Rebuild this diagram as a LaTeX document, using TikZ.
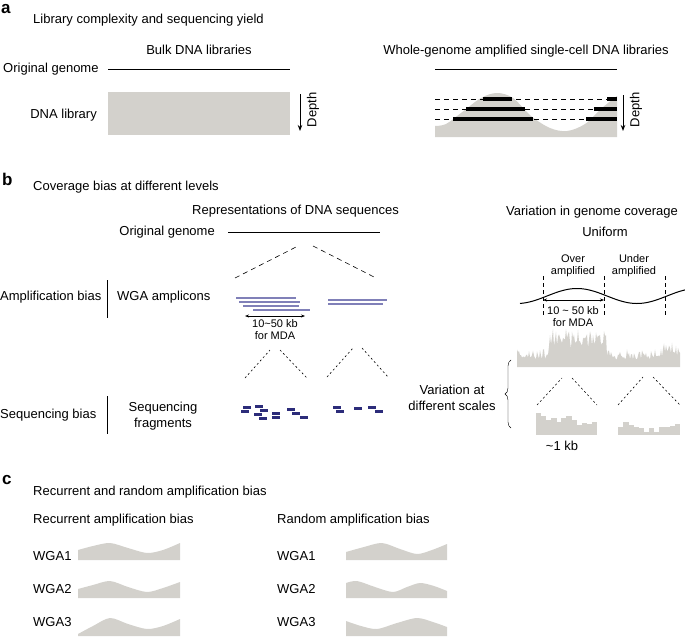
\documentclass[tikz,border=0pt]{standalone}
\usepackage{fontspec}
\setmainfont{Liberation Sans}
\usetikzlibrary{arrows.meta,decorations.pathreplacing}
\definecolor{libgray}{RGB}{211,209,204}
\definecolor{ampblue}{RGB}{128,128,184}
\definecolor{fragblue}{RGB}{44,44,122}

\begin{document}
\begin{tikzpicture}[x=1pt, y=-1pt,
    txt/.style={font=\fontsize{13}{15}\selectfont, inner sep=0pt, text height=9.4pt, text depth=2.7pt},
    twoline/.style={font=\fontsize{13}{15.5}\selectfont, inner sep=0pt, align=center},
    smalltxt/.style={font=\fontsize{11}{12}\selectfont, inner sep=0pt, align=center},
    panel/.style={font=\fontsize{17}{17}\selectfont\bfseries, inner sep=0pt},
    genome/.style={line width=1pt},
    cutline/.style={dash pattern=on 5pt off 4pt, line width=0.6pt},
    dotline/.style={dash pattern=on 2pt off 2.5pt, line width=0.6pt},
    depth/.style={line width=1pt, -{Stealth[length=6pt, width=4.5pt]}},
    span/.style={line width=0.6pt, {Stealth[length=4pt, width=3pt]}-{Stealth[length=4pt, width=3pt]}},
    readbar/.style={line width=4pt},
    amplicon/.style={ampblue, line width=1.2pt},
    tick/.style={dash pattern=on 4pt off 3pt, line width=1pt},
    sidebar/.style={line width=1pt}]
\useasboundingbox (0,0) rectangle (685,637);

% ---- a: library complexity
\node[panel, anchor=west] (pa) at (1,9) {a};
\node[txt, anchor=west] (titlea) at (33,20) {Library complexity and sequencing yield};
\node[txt] (bulk) at (199,51) {Bulk DNA libraries};
\node[txt, anchor=west] (origa) at (3,69) {Original genome};
\coordinate (ga1) at (108,69); \coordinate (ga2) at (290,69);
\draw[genome] (ga1) -- (ga2);
\fill[libgray] (108,92) rectangle (290,135);
\node[txt, anchor=east] (dnalib) at (97,115) {DNA library};
\coordinate (da1) at (300,94); \coordinate (da2) at (300,131);
\draw[depth] (da1) -- (da2);
\node[txt, rotate=90] (deptha) at (313,110) {Depth};

\node[txt] (wgalib) at (526,51) {Whole-genome amplified single-cell DNA libraries};
\coordinate (gb1) at (435,69); \coordinate (gb2) at (617,69);
\draw[genome] (gb1) -- (gb2);
\fill[libgray] (435,137) -- plot[smooth, tension=0.55] coordinates {(435,126) (446,124) (461,113) (481,98) (497,93) (513,98) (531,116) (550,128) (567,131) (585,124) (602,108) (617,96)} -- (617,137) -- cycle;
\foreach \y in {99,109,119}
    \draw[cutline] (435,\y) -- (617,\y);
\draw[readbar] (483,99) -- (512,99);
\draw[readbar] (466,109) -- (525,109);
\draw[readbar] (453,119) -- (533,119);
\draw[readbar] (607,99) -- (617,99);
\draw[readbar] (594,109) -- (617,109);
\draw[readbar] (586,119) -- (617,119);
\coordinate (db1) at (623,95); \coordinate (db2) at (623,131);
\draw[depth] (db1) -- (db2);
\node[txt, rotate=90] (depthb) at (636,110) {Depth};

% ---- b: coverage bias
\node[panel, anchor=west] (pb) at (2,179) {b};
\node[txt, anchor=west] (titleb) at (33,187) {Coverage bias at different levels};
\node[txt, anchor=west] (repr) at (192,211) {Representations of DNA sequences};
\node[txt, anchor=east] (origb) at (215,232) {Original genome};
\coordinate (gc1) at (228,232); \coordinate (gc2) at (380,232);
\draw[genome] (gc1) -- (gc2);
\draw[cutline] (235,278) -- (298,246);
\draw[cutline] (313,246) -- (376,278);

\node[txt, anchor=west] (ampbias) at (0,297) {Amplification bias};
\draw[sidebar] (107,280) -- (107,318);
\node[txt, anchor=west] (amplicons) at (117,297) {WGA amplicons};
\draw[amplicon] (236,298) -- (296,298);
\draw[amplicon] (239,302) -- (300,302);
\draw[amplicon] (243,306) -- (299,306);
\draw[amplicon] (253,310) -- (310,310);
\draw[amplicon] (328,300) -- (387,300);
\draw[amplicon] (328,304) -- (383,304);
\coordinate (sa1) at (245,316); \coordinate (sa2) at (305,316);
\draw[span] (sa1) -- (sa2);
\node[smalltxt] (mdaa) at (275,330) {10\textasciitilde50 kb\\for MDA};
\draw[dotline] (245,378) -- (270,350);
\draw[dotline] (280,350) -- (307,378);
\draw[dotline] (327,377) -- (353,348);
\draw[dotline] (362,348) -- (388,377);

\node[txt, anchor=west] (seqbias) at (0,415) {Sequencing bias};
\draw[sidebar] (107,396) -- (107,434);
\node[twoline] (seqfrag) at (163,416) {Sequencing\\fragments};
\foreach \fx/\fy in {247/407, 245/411, 259/406, 264/410, 258/414, 263/418,
    276/413, 276/417, 291/409, 296/413, 304/417,
    337/407, 340/411, 358/408, 372/407, 379/411}
    \fill[fragblue] (\fx-4,\fy-1.5) rectangle (\fx+4,\fy+1.5);

\node[txt] (varcov) at (592,212) {Variation in genome coverage};
\node[txt] (uniform) at (605,233) {Uniform};
\node[smalltxt] (over) at (573,266) {Over\\amplified};
\node[smalltxt] (under) at (634,266) {Under\\amplified};
\foreach \tx in {543,604,665}
    \draw[tick] (\tx,276) -- (\tx,317);
\draw[line width=1pt] plot[domain=520:685, samples=90, smooth] (\x,{296-7.5*sin((\x-547)*3)});
\coordinate (sb1) at (543,300); \coordinate (sb2) at (604,300);
\draw[span] (sb1) -- (sb2);
\node[smalltxt] (mdab) at (573,317) {10 \textasciitilde{} 50 kb\\for MDA};

\pgfmathsetseed{42}
\fill[libgray] (517,367) \foreach \x in {517,...,680} {
    -- (\x,{367-(7+11*rnd+(\x>548)*(\x<607)*(10+12*rnd)+(\x>660)*8*rnd)}) } -- (680,367) -- cycle;

\draw[decorate, decoration={brace, amplitude=6pt}] (511,428) -- (511,360);
\node[twoline] (varscale) at (452,398) {Variation at\\different scales};

\draw[dotline] (537,405) -- (562,378);
\draw[dotline] (572,378) -- (597,405);
\draw[dotline] (618,405) -- (643,377);
\draw[dotline] (653,377) -- (680,405);
\foreach \h [count=\i from 0] in {22,19,15,17,13,17,19,15,10,12,11,13}
    \fill[libgray] ({536+5.08*\i},435) rectangle ({536+5.08*(\i+1)+0.3},{435-\h});
\foreach \h [count=\i from 0] in {8,13,10,8,7,3,7,3,8,8,9,11}
    \fill[libgray] ({618+5.17*\i},435) rectangle ({618+5.17*(\i+1)+0.3},{435-\h});
\node[txt] (onekb) at (562,447) {\textasciitilde1 kb};

% ---- c: recurrent vs random
\node[panel, anchor=west] (pc) at (2,480) {c};
\node[txt, anchor=west] (titlec) at (33,492) {Recurrent and random amplification bias};
\node[txt, anchor=west] (recur) at (33,520) {Recurrent amplification bias};
\node[txt, anchor=west] (random) at (277,520) {Random amplification bias};
\foreach \lab/\ly in {WGA1/557, WGA2/590, WGA3/623} {
    \node[txt, anchor=west] (rec\lab) at (33,\ly) {\lab};
    \node[txt, anchor=west] (rnd\lab) at (277,\ly) {\lab};
}
\begin{scope}[shift={(78,560)}]
  \fill[libgray] (0,0) -- plot[smooth] coordinates {(0,-10) (15,-14) (32,-17) (50,-12) (69,-7) (85,-10) (102,-17)} -- (102,0) -- cycle;
\end{scope}
\begin{scope}[shift={(78,598)}]
  \fill[libgray] (0,0) -- plot[smooth] coordinates {(0,-9) (15,-13) (32,-17) (50,-11) (69,-6) (85,-10) (102,-16)} -- (102,0) -- cycle;
\end{scope}
\begin{scope}[shift={(78,636)}]
  \fill[libgray] (0,0) -- plot[smooth] coordinates {(0,-2) (15,-10) (32,-18) (50,-12) (69,-7) (85,-10) (102,-17)} -- (102,0) -- cycle;
\end{scope}
\begin{scope}[shift={(346,560)}]
  \fill[libgray] (0,0) -- plot[smooth] coordinates {(0,-8) (18,-13) (36,-17) (54,-11) (71,-6) (86,-10) (101,-16)} -- (101,0) -- cycle;
\end{scope}
\begin{scope}[shift={(346,598)}]
  \fill[libgray] (0,0) -- plot[smooth] coordinates {(0,-15) (11,-17) (29,-11) (47,-6) (61,-11) (74,-15) (88,-12) (101,-7)} -- (101,0) -- cycle;
\end{scope}
\begin{scope}[shift={(346,636)}]
  \fill[libgray] (0,0) -- plot[smooth] coordinates {(0,-15) (15,-10) (31,-7) (51,-13) (71,-18) (87,-14) (101,-9)} -- (101,0) -- cycle;
\end{scope}
\end{tikzpicture}
\end{document}
